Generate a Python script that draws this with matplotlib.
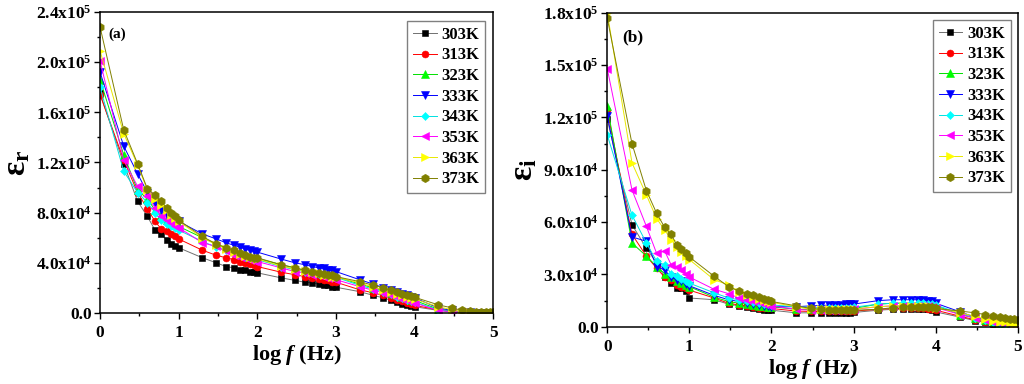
import matplotlib
matplotlib.use("Agg")
import matplotlib.pyplot as plt
import numpy as np
from matplotlib.ticker import FuncFormatter, MultipleLocator

plt.rcParams["font.family"] = "Liberation Serif"
plt.rcParams["font.weight"] = "bold"
plt.rcParams["mathtext.fontset"] = "custom"
plt.rcParams["mathtext.rm"] = "Liberation Serif:bold"
plt.rcParams["mathtext.it"] = "Liberation Serif:bold:italic"
plt.rcParams["mathtext.bf"] = "Liberation Serif:bold"

# measurement frequencies (Hz)
FREQ = [1, 2, 3, 4, 5, 6, 7, 8, 9, 10,
        20, 30, 40, 50, 60, 70, 80, 90, 100,
        200, 300, 400, 500, 600, 700, 800, 900, 1000,
        2000, 3000, 4000, 5000, 6000, 7000, 8000, 9000, 10000,
        20000, 30000, 40000, 50000, 60000, 70000, 80000, 90000, 100000]

TEMPS = ["303K", "313K", "323K", "333K", "343K", "353K", "363K", "373K"]

# real permittivity, units of 1e4
EPS_R_303 = [17.5, 11.9, 8.9, 7.7, 6.6, 6.3, 5.8, 5.5, 5.3, 5.2,
             4.4, 4.0, 3.7, 3.6, 3.45, 3.4, 3.3, 3.25, 3.2,
             2.8, 2.6, 2.45, 2.4, 2.3, 2.25, 2.2, 2.1, 2.05,
             1.7, 1.4, 1.2, 1.0, 0.85, 0.75, 0.65, 0.55, 0.5,
             0.2, 0.1, 0.05, 0.02, 0.01, 0.0, 0.0, 0.0, 0.0]
EPS_R_313 = [17.4, 12.2, 9.6, 8.3, 7.3, 6.7, 6.5, 6.3, 6.1, 5.9,
             5.0, 4.6, 4.4, 4.25, 4.1, 4.0, 3.9, 3.8, 3.7,
             3.25, 3.05, 2.9, 2.8, 2.7, 2.65, 2.6, 2.5, 2.45,
             1.85, 1.6, 1.4, 1.2, 1.05, 0.95, 0.8, 0.7, 0.6,
             0.25, 0.1, 0.05, 0.03, 0.02, 0.01, 0.0, 0.0, 0.0]
EPS_R_323 = [18.6, 12.6, 9.8, 9.1, 8.2, 7.8, 7.4, 7.2, 7.0, 6.9,
             6.0, 5.5, 5.2, 5.0, 4.8, 4.65, 4.5, 4.4, 4.35,
             3.85, 3.6, 3.4, 3.25, 3.2, 3.1, 3.05, 3.0, 2.9,
             2.3, 2.0, 1.8, 1.6, 1.45, 1.3, 1.2, 1.05, 1.0,
             0.3, 0.15, 0.08, 0.05, 0.03, 0.02, 0.01, 0.0, 0.0]
EPS_R_333 = [19.2, 13.3, 11.1, 9.6, 8.8, 8.2, 7.8, 7.5, 7.4, 7.3,
             6.3, 5.9, 5.6, 5.4, 5.25, 5.1, 5.0, 4.9, 4.85,
             4.3, 4.0, 3.85, 3.7, 3.6, 3.55, 3.45, 3.4, 3.3,
             2.65, 2.3, 2.0, 1.8, 1.65, 1.5, 1.4, 1.3, 1.2,
             0.4, 0.2, 0.1, 0.05, 0.03, 0.02, 0.01, 0.0, 0.0]
EPS_R_343 = [18.0, 11.3, 9.6, 8.8, 8.0, 7.4, 7.1, 6.9, 6.8, 6.6,
             5.7, 5.25, 5.0, 4.8, 4.65, 4.5, 4.4, 4.3, 4.25,
             3.7, 3.45, 3.3, 3.2, 3.1, 3.0, 2.95, 2.9, 2.85,
             2.2, 1.9, 1.65, 1.5, 1.3, 1.2, 1.05, 0.95, 0.85,
             0.25, 0.1, 0.05, 0.03, 0.02, 0.01, 0.0, 0.0, 0.0]
EPS_R_353 = [20.1, 12.2, 10.1, 9.3, 8.4, 7.7, 7.4, 7.2, 6.9, 6.8,
             5.6, 5.3, 4.9, 4.65, 4.5, 4.4, 4.25, 4.15, 4.1,
             3.6, 3.3, 3.2, 3.05, 3.0, 2.9, 2.8, 2.75, 2.65,
             2.1, 1.8, 1.6, 1.4, 1.25, 1.1, 1.0, 0.9, 0.8,
             0.2, 0.1, 0.05, 0.03, 0.02, 0.01, 0.0, 0.0, 0.0]
EPS_R_363 = [20.9, 14.3, 11.8, 9.8, 9.1, 8.6, 8.2, 7.8, 7.55, 7.3,
             6.0, 5.45, 5.1, 4.85, 4.7, 4.55, 4.45, 4.35, 4.3,
             3.75, 3.5, 3.35, 3.25, 3.15, 3.05, 3.0, 2.9, 2.85,
             2.4, 2.05, 1.85, 1.65, 1.5, 1.4, 1.3, 1.2, 1.1,
             0.5, 0.25, 0.1, 0.06, 0.04, 0.03, 0.02, 0.01, 0.0]
EPS_R_373 = [22.8, 14.6, 11.9, 9.9, 9.4, 8.9, 8.4, 8.0, 7.7, 7.4,
             6.1, 5.5, 5.2, 5.0, 4.8, 4.65, 4.5, 4.4, 4.4,
             3.85, 3.6, 3.4, 3.3, 3.2, 3.1, 3.05, 3.0, 2.9,
             2.5, 2.2, 2.0, 1.8, 1.65, 1.55, 1.45, 1.35, 1.25,
             0.65, 0.4, 0.2, 0.13, 0.1, 0.08, 0.06, 0.05, 0.05]

# imaginary permittivity, units of 1e4
EPS_I_303 = [11.9, 5.85, 4.5, 3.65, 2.85, 2.5, 2.25, 2.2, 2.05, 1.65,
             1.55, 1.3, 1.2, 1.15, 1.05, 1.0, 0.98, 0.96, 0.95,
             0.8, 0.8, 0.8, 0.8, 0.8, 0.8, 0.8, 0.8, 0.82,
             0.95, 1.0, 1.0, 1.0, 1.0, 1.0, 1.0, 0.95, 0.85,
             0.55, 0.35, 0.25, 0.18, 0.12, 0.08, 0.05, 0.03, 0.0]
EPS_I_313 = [12.4, 5.3, 4.05, 3.35, 2.85, 2.7, 2.4, 2.3, 2.2, 2.1,
             1.65, 1.35, 1.25, 1.2, 1.15, 1.1, 1.08, 1.06, 1.05,
             0.9, 0.88, 0.88, 0.88, 0.88, 0.88, 0.9, 0.9, 0.9,
             1.0, 1.05, 1.05, 1.05, 1.05, 1.05, 1.0, 1.0, 0.95,
             0.6, 0.4, 0.3, 0.22, 0.16, 0.12, 0.08, 0.06, 0.05]
EPS_I_323 = [12.65, 4.8, 4.05, 3.45, 3.05, 2.85, 2.6, 2.5, 2.4, 2.3,
             1.7, 1.45, 1.35, 1.3, 1.25, 1.2, 1.18, 1.16, 1.15,
             1.0, 1.0, 1.02, 1.03, 1.04, 1.05, 1.05, 1.05, 1.05,
             1.3, 1.35, 1.35, 1.35, 1.35, 1.3, 1.3, 1.25, 1.2,
             0.7, 0.5, 0.38, 0.3, 0.24, 0.18, 0.14, 0.12, 0.1]
EPS_I_333 = [12.1, 5.15, 4.9, 3.45, 3.25, 2.85, 2.7, 2.6, 2.45, 2.35,
             1.8, 1.55, 1.45, 1.35, 1.3, 1.25, 1.2, 1.18, 1.15,
             1.15, 1.2, 1.22, 1.24, 1.25, 1.26, 1.28, 1.3, 1.3,
             1.5, 1.55, 1.55, 1.55, 1.55, 1.52, 1.5, 1.45, 1.35,
             0.85, 0.55, 0.4, 0.3, 0.22, 0.17, 0.13, 0.11, 0.1]
EPS_I_343 = [11.0, 6.4, 4.8, 3.75, 3.55, 3.05, 2.9, 2.75, 2.65, 2.5,
             1.95, 1.65, 1.55, 1.45, 1.4, 1.35, 1.3, 1.28, 1.25,
             1.15, 1.1, 1.1, 1.1, 1.1, 1.1, 1.1, 1.1, 1.12,
             1.3, 1.35, 1.35, 1.35, 1.35, 1.35, 1.3, 1.3, 1.25,
             0.75, 0.5, 0.38, 0.3, 0.24, 0.18, 0.14, 0.12, 0.1]
EPS_I_353 = [14.8, 7.85, 5.75, 4.2, 4.35, 3.55, 3.45, 3.25, 3.05, 2.85,
             2.15, 1.9, 1.65, 1.55, 1.45, 1.4, 1.3, 1.25, 1.2,
             1.0, 0.95, 0.95, 0.95, 0.95, 0.97, 0.98, 1.0, 1.0,
             1.15, 1.2, 1.2, 1.2, 1.2, 1.2, 1.2, 1.15, 1.1,
             0.7, 0.5, 0.38, 0.3, 0.24, 0.2, 0.16, 0.13, 0.1]
EPS_I_363 = [18.0, 9.4, 7.55, 6.2, 5.55, 5.0, 4.6, 4.3, 4.05, 3.85,
             2.7, 2.4, 2.0, 1.8, 1.7, 1.6, 1.55, 1.5, 1.4,
             1.15, 1.0, 1.0, 1.0, 1.0, 1.0, 1.0, 1.0, 1.02,
             1.15, 1.2, 1.2, 1.2, 1.2, 1.2, 1.18, 1.15, 1.1,
             0.8, 0.6, 0.45, 0.35, 0.3, 0.25, 0.2, 0.17, 0.15]
EPS_I_373 = [17.7, 10.5, 7.8, 6.5, 5.7, 5.3, 4.7, 4.45, 4.25, 4.0,
             2.9, 2.3, 2.05, 1.9, 1.8, 1.7, 1.6, 1.55, 1.45,
             1.2, 1.05, 1.0, 0.95, 0.95, 0.95, 0.95, 0.95, 0.95,
             1.0, 1.1, 1.15, 1.15, 1.15, 1.15, 1.15, 1.12, 1.05,
             0.9, 0.8, 0.7, 0.6, 0.55, 0.5, 0.45, 0.42, 0.4]

EPS_R = [EPS_R_303, EPS_R_313, EPS_R_323, EPS_R_333,
         EPS_R_343, EPS_R_353, EPS_R_363, EPS_R_373]
EPS_I = [EPS_I_303, EPS_I_313, EPS_I_323, EPS_I_333,
         EPS_I_343, EPS_I_353, EPS_I_363, EPS_I_373]

MARKER_COLORS = ["#000000", "#ff0000", "#00ff00", "#0000ff",
                 "#00ffff", "#ff00ff", "#ffff00", "#808000"]
LINE_COLORS = ["#707070", "#ff0000", "#00e000", "#0000ff",
               "#00e0e0", "#ff00ff", "#e8e800", "#808000"]
MARKERS = ["s", "o", "^", "v", "D", "<", ">", "h"]
SIZES = [4.5, 5, 5.5, 5.5, 4.2, 5.5, 5.5, 6]


def sci_fmt(v, _pos):
    if abs(v) < 1e-9:
        return "0.0"
    e = int(np.floor(np.log10(abs(v)) + 1e-9))
    m = v / 10 ** e
    return f"{m:.1f}x10$^{{{e}}}$"


def draw_panel(ax, series, ymax, ystep, ylabel, tag, tag_size, tag_pos, leg_anchor):
    x = np.log10(FREQ)
    for vals, name, mc, lc, mk, ms in zip(series, TEMPS, MARKER_COLORS,
                                          LINE_COLORS, MARKERS, SIZES):
        ax.plot(x, np.array(vals) * 1e4, color=lc, linewidth=0.7, marker=mk,
                markersize=ms, markerfacecolor=mc, markeredgecolor=mc,
                markeredgewidth=0.4, label=name)

    ax.set_xlim(0, 5)
    ax.set_ylim(0, ymax)
    ax.xaxis.set_major_locator(MultipleLocator(1))
    ax.xaxis.set_minor_locator(MultipleLocator(0.5))
    ax.yaxis.set_major_locator(MultipleLocator(ystep))
    ax.yaxis.set_minor_locator(MultipleLocator(ystep / 2))
    ax.yaxis.set_major_formatter(FuncFormatter(sci_fmt))
    ax.tick_params(which="major", direction="out", length=4, width=1,
                   labelsize=12.5)
    ax.tick_params(axis="y", pad=2)
    ax.tick_params(axis="x", pad=5)
    ax.tick_params(which="minor", direction="out", length=2.5, width=1)
    for lbl in ax.get_xticklabels() + ax.get_yticklabels():
        lbl.set_fontweight("bold")
    for sp in ax.spines.values():
        sp.set_linewidth(1.1)

    ax.set_xlabel("log $\\mathit{f}$ (Hz)", fontsize=16, fontweight="bold",
                  labelpad=1)
    ax.set_ylabel(ylabel, fontsize=24, fontweight="bold", labelpad=3)
    ax.text(tag_pos[0], tag_pos[1], tag, transform=ax.transAxes,
            fontsize=tag_size, fontweight="bold", va="center")

    leg = ax.legend(loc="upper right", bbox_to_anchor=leg_anchor,
                    borderaxespad=0, fontsize=12, handlelength=1.4,
                    handletextpad=0.3, labelspacing=0.28, borderpad=0.35,
                    fancybox=False, framealpha=1, edgecolor="#808080")
    leg.get_frame().set_linewidth(1.0)
    for t in leg.get_texts():
        t.set_fontweight("bold")


fig = plt.figure(figsize=(10.24, 3.84), dpi=100)
ax_a = fig.add_axes([0.0977, 0.185, 0.384, 0.784])
ax_b = fig.add_axes([0.593, 0.149, 0.401, 0.818])

draw_panel(ax_a, EPS_R, 2.4e5, 4e4, "ε$_\\mathrm{r}$", "(a)", 11,
           (0.02, 0.925), (0.98, 0.97))
draw_panel(ax_b, EPS_I, 1.8e5, 3e4, "ε$_\\mathrm{i}$", "(b)", 12.5,
           (0.036, 0.92), (0.983, 0.977))

fig.savefig("out.png", dpi=100)
